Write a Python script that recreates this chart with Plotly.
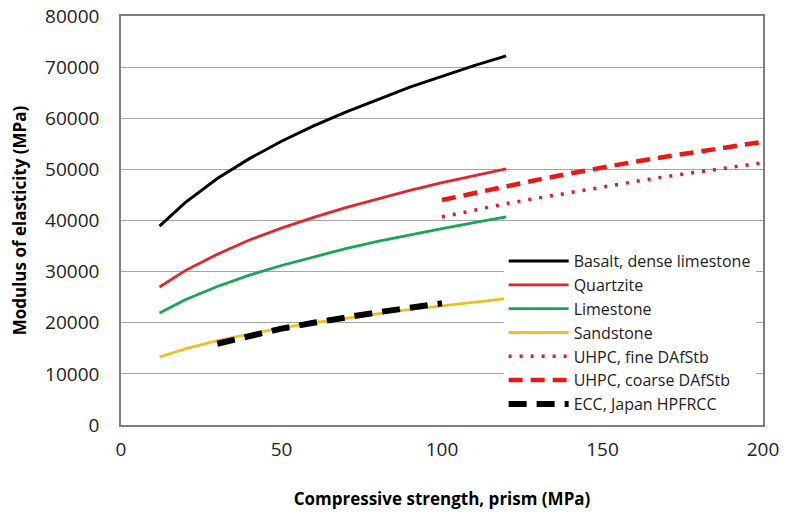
import plotly.graph_objects as go

x_rock = [12, 20, 30, 40, 50, 60, 70, 80, 90, 100, 110, 120]
basalt = [38900, 43500, 48200, 52100, 55500, 58500, 61200, 63700, 66100, 68200, 70300, 72200]
quartzite = [27000, 30200, 33400, 36200, 38500, 40600, 42500, 44200, 45900, 47400, 48800, 50100]
limestone = [21900, 24500, 27100, 29300, 31200, 32900, 34500, 35900, 37200, 38400, 39600, 40700]
sandstone = [13300, 14900, 16500, 17800, 19000, 20000, 20900, 21800, 22600, 23300, 24000, 24700]

x_uhpc = [100, 110, 120, 130, 140, 150, 160, 170, 180, 190, 200]
uhpc_fine = [40700, 42000, 43300, 44400, 45500, 46600, 47600, 48600, 49500, 50400, 51300]
uhpc_coarse = [44000, 45400, 46800, 48000, 49200, 50400, 51500, 52500, 53500, 54500, 55400]

x_ecc = [30, 40, 50, 60, 70, 80, 90, 100]
ecc = [15900, 17500, 18850, 20000, 21100, 22050, 22950, 23800]

y_ticks = [0, 10000, 20000, 30000, 40000, 50000, 60000, 70000, 80000]
x_ticks = [0, 50, 100, 150, 200]

FONT = "Open Sans"

fig = go.Figure()
fig.add_trace(go.Scatter(x=x_rock, y=basalt, mode="lines", name="Basalt, dense limestone",
                         line=dict(color="#000000", width=3)))
fig.add_trace(go.Scatter(x=x_rock, y=quartzite, mode="lines", name="Quartzite",
                         line=dict(color="#E3262B", width=2.8)))
fig.add_trace(go.Scatter(x=x_rock, y=limestone, mode="lines", name="Limestone",
                         line=dict(color="#1AA655", width=2.8)))
fig.add_trace(go.Scatter(x=x_rock, y=sandstone, mode="lines", name="Sandstone",
                         line=dict(color="#F2C01E", width=2.8)))
fig.add_trace(go.Scatter(x=x_uhpc, y=uhpc_fine, mode="lines", name="UHPC, fine DAfStb",
                         line=dict(color="#D4202E", width=3.5, dash="3px,8px")))
fig.add_trace(go.Scatter(x=x_uhpc, y=uhpc_coarse, mode="lines", name="UHPC, coarse DAfStb",
                         line=dict(color="#EE1515", width=4.5, dash="14px,8px")))
fig.add_trace(go.Scatter(x=x_ecc, y=ecc, mode="lines", name="ECC, Japan HPFRCC",
                         line=dict(color="#000000", width=6, dash="18px,10px")))

fig.update_layout(
    width=785, height=515,
    margin=dict(l=121, r=22, t=16, b=90),
    paper_bgcolor="white", plot_bgcolor="white",
    font=dict(family=FONT, color="#222222"),
    legend=dict(x=0.596, y=0.442, xanchor="left", yanchor="top",
                bgcolor="white", borderwidth=0,
                font=dict(family=FONT, size=16, color="#222222"),
                itemwidth=60, tracegroupgap=0),
    xaxis=dict(range=[0, 200], tickvals=x_ticks, ticktext=[str(v) for v in x_ticks],
               showgrid=False, zeroline=False, showline=True, linecolor="#7f7f7f",
               linewidth=1.5, mirror=True, ticks="", automargin=False,
               tickfont=dict(family=FONT, size=19, color="#222222"),
               ticklabelstandoff=6,
               title=dict(text="<b>Compressive strength, prism (MPa)</b>",
                          font=dict(family=FONT, size=17, color="#000000"), standoff=33)),
    yaxis=dict(range=[0, 80000], tickvals=y_ticks, ticktext=[str(v) for v in y_ticks],
               showgrid=True, gridcolor="#a6a6a6", gridwidth=1, zeroline=False,
               showline=True, linecolor="#7f7f7f", linewidth=1.5, mirror=True, ticks="",
               automargin=False,
               tickfont=dict(family=FONT, size=19, color="#222222"),
               ticklabelstandoff=16,
               title=dict(text="<b>Modulus of elasticity (MPa)</b>",
                          font=dict(family=FONT, size=17, color="#000000"), standoff=14)),
)

fig.write_html("out.html", config={"displayModeBar": False},
               post_script="document.body.style.margin='0px';")
